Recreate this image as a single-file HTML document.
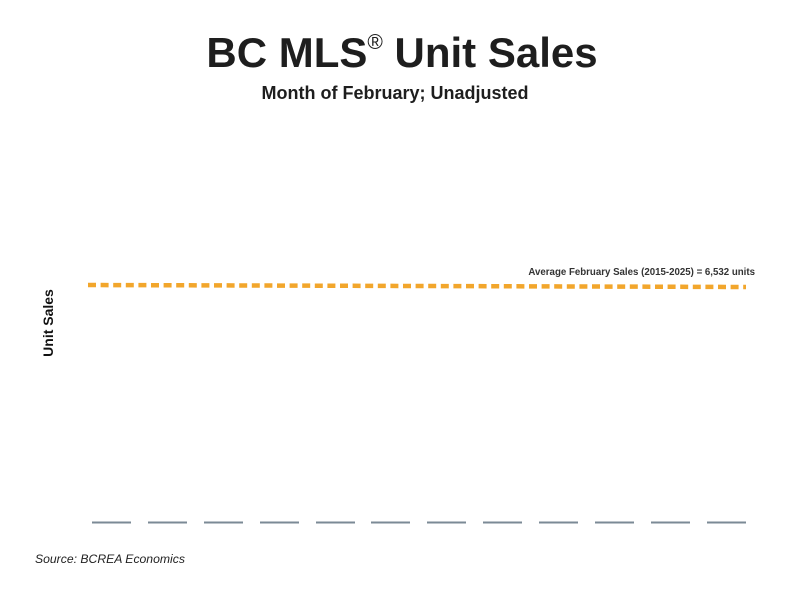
<!DOCTYPE html>
<html><head><style>
body{margin:0;background:#fff;width:800px;height:600px;overflow:hidden;font-family:"Liberation Sans",sans-serif;}
</style></head><body>
<svg width="800" height="600" xmlns="http://www.w3.org/2000/svg">
<rect width="800" height="600" fill="#fff"/>
<text x="402" y="67" text-anchor="middle" font-family="Liberation Sans" font-weight="bold" font-size="42" fill="#1e1e1e"><tspan>BC MLS</tspan><tspan font-size="21" dy="-18" font-weight="normal">®</tspan><tspan dy="18"> Unit Sales</tspan></text>
<text x="395" y="99" text-anchor="middle" font-family="Liberation Sans" font-weight="bold" font-size="18" fill="#1e1e1e">Month of February; Unadjusted</text>
<text transform="translate(53,323) rotate(-90)" text-anchor="middle" font-family="Liberation Sans" font-weight="bold" font-size="14" fill="#111">Unit Sales</text>
<text x="755" y="275" text-anchor="end" font-family="Liberation Sans" font-weight="bold" font-size="9.7" fill="#333">Average February Sales (2015-2025) = 6,532 units</text>
<line x1="88" y1="285" x2="746" y2="287" stroke="#f2a62c" stroke-width="4.5" stroke-dasharray="8,4.6"/>
<g stroke="#7b8a96" stroke-width="2">
<line x1="92" y1="522.5" x2="131" y2="522.5"/>
<line x1="148" y1="522.5" x2="187" y2="522.5"/>
<line x1="204" y1="522.5" x2="243" y2="522.5"/>
<line x1="260" y1="522.5" x2="299" y2="522.5"/>
<line x1="316" y1="522.5" x2="355" y2="522.5"/>
<line x1="371" y1="522.5" x2="410" y2="522.5"/>
<line x1="427" y1="522.5" x2="466" y2="522.5"/>
<line x1="483" y1="522.5" x2="522" y2="522.5"/>
<line x1="539" y1="522.5" x2="578" y2="522.5"/>
<line x1="595" y1="522.5" x2="634" y2="522.5"/>
<line x1="651" y1="522.5" x2="690" y2="522.5"/>
<line x1="707" y1="522.5" x2="746" y2="522.5"/>
</g>
<text x="35" y="563" font-family="Liberation Sans" font-style="italic" font-size="12.2" fill="#222">Source: BCREA Economics</text>
</svg>
</body></html>
